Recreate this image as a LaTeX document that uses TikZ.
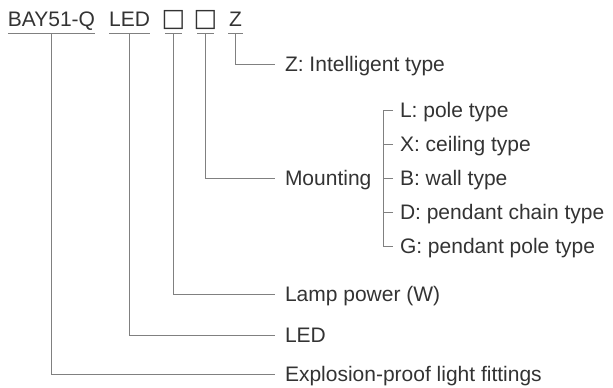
\documentclass[tikz,border=0pt]{standalone}
\usepackage{fontspec}
\setmainfont{Liberation Sans}
\newfontfamily\symfont{DejaVu Sans}
\definecolor{txt}{HTML}{333333}
\definecolor{ln}{HTML}{808080}
\newcommand{\sqbox}{\makebox[17pt]{\symfont\fontsize{25}{27}\selectfont □}}
\begin{document}
\begin{tikzpicture}[x=1pt,y=-1pt,
  every node/.style={text=txt,font=\fontsize{21}{24}\selectfont},
  part/.style={anchor=south,inner xsep=0pt,inner ysep=6.6pt,outer sep=0pt,text height=15pt,text depth=0pt},
  lab/.style={anchor=west,inner sep=0pt,outer ysep=0pt,outer xsep=10pt,text height=14pt,text depth=0pt},
  sub/.style={anchor=west,inner sep=0pt,outer ysep=0pt,outer xsep=7pt,text height=14pt,text depth=0pt},
  conn/.style={draw=ln,line width=0.8pt}]
\useasboundingbox (0,0) rectangle (613,388);
% title parts
\node[part,minimum width=87pt] (bay) at (51.5,33.3) {BAY51-Q};
\node[part,minimum width=41pt] (led) at (129.5,33.3) {LED};
\node[part,minimum width=17pt] (bx1) at (173.5,33.3) {\sqbox};
\node[part,minimum width=17pt] (bx2) at (205.5,33.3) {\sqbox};
\node[part,minimum width=15pt] (zz) at (235.5,33.3) {Z};
\foreach \n in {bay,led,bx1,bx2,zz}
  \draw[conn] (\n.south west) -- (\n.south east);
% labels
\node[lab] (zl) at (275,64) {Z: Intelligent type};
\node[lab] (mnt) at (275,178) {Mounting};
\node[lab] (lamp) at (275,294.5) {Lamp power (W)};
\node[lab] (ledl) at (275,335.5) {LED};
\node[lab] (expl) at (275,374.7) {Explosion-proof light fittings};
% mounting options
\node[sub] (ml) at (393,110.5) {L: pole type};
\node[sub] (mx) at (393,144.5) {X: ceiling type};
\node[sub] (mb) at (393,178.5) {B: wall type};
\node[sub] (md) at (393,212.5) {D: pendant chain type};
\node[sub] (mg) at (393,246.5) {G: pendant pole type};
% connectors
\draw[conn] (zz.south) |- (zl.west);
\draw[conn] (bx2.south) |- (mnt.west);
\draw[conn] (bx1.south) |- (lamp.west);
\draw[conn] (led.south) |- (ledl.west);
\draw[conn] (bay.south) |- (expl.west);
\draw[conn] (ml.west) -- ++(-10,0) |- (mg.west);
\foreach \n in {mx,mb,md}
  \draw[conn] (\n.west) -- ++(-10,0);
\end{tikzpicture}
\end{document}
